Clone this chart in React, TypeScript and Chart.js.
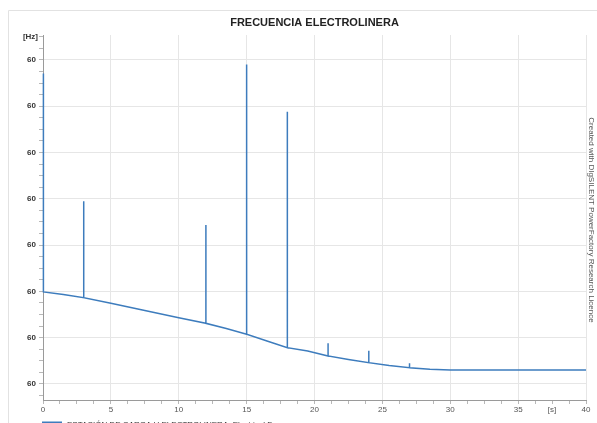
import React, { useEffect, useRef } from "react";
import { Chart, registerables } from "chart.js";

Chart.register(...registerables);

const chartTitle = "FRECUENCIA ELECTROLINERA";
const seriesName = "ESTACIÓN DE CARGA U ELECTROLINERA: Electrical Frequency";
const watermark = "Created with DIgSILENT PowerFactory Research Licence";
const yUnit = "[Hz]";
const xUnit = "[s]";

// time [s] and frequency [Hz]
const timeS = [0, 0.03, 0.03, 1.5, 3, 3, 3, 5, 7.5, 10, 12, 12, 12, 13.5, 15, 15, 15, 16.5, 18, 18, 18, 19.5, 21, 21, 21, 22.5, 24, 24, 24, 25.5, 27, 27, 27, 28.5, 30, 35, 40];
const freqHz = [59.9799, 60.0271, 59.9799, 59.97933, 59.97864, 59.9995, 59.97864, 59.97743, 59.9759, 59.97432, 59.97311, 59.99434, 59.97311, 59.972, 59.97073, 60.02905, 59.97073, 59.9693, 59.96784, 60.0188, 59.96784, 59.96713, 59.96605, 59.9688, 59.96605, 59.9653, 59.9646, 59.9672, 59.9646, 59.964, 59.96352, 59.9645, 59.96352, 59.9632, 59.96302, 59.96302, 59.96302];

const xMajorTicks = [0, 5, 10, 15, 20, 25, 30, 35, 40];
const xMinorStep = 1.25;
const yMajorTicks = [59.96, 59.97, 59.98, 59.99, 60.0, 60.01, 60.02, 60.03];
const yMinorStep = 0.0025;
const yMin = 59.95654;
const yMax = 60.0354;

const LINE = "#3d7cbd";
const FONT = "'Liberation Sans', Arial, sans-serif";

const near = (a: number, list: number[]) => list.some((v) => Math.abs(v - a) < 1e-7);

export default function App() {
  const ref = useRef<HTMLCanvasElement | null>(null);

  useEffect(() => {
    const canvas = ref.current;
    if (!canvas) return;

    const decor = {
      id: "decor",
      afterDraw(chart: any) {
        const ctx = chart.ctx as CanvasRenderingContext2D;
        const area = chart.chartArea;
        ctx.save();
        // frame
        ctx.strokeStyle = "#e2e2e2";
        ctx.lineWidth = 1;
        ctx.beginPath();
        ctx.moveTo(8.5, 423);
        ctx.lineTo(8.5, 10.5);
        ctx.lineTo(597, 10.5);
        ctx.stroke();
        // title
        ctx.fillStyle = "#222";
        ctx.font = `bold 11px ${FONT}`;
        ctx.textAlign = "center";
        ctx.textBaseline = "middle";
        ctx.fillText(chartTitle, (area.left + area.right) / 2, 23);
        // y unit
        ctx.font = `bold 8px ${FONT}`;
        ctx.textAlign = "right";
        ctx.fillStyle = "#333";
        ctx.fillText(yUnit, 38, 37);
        // watermark
        ctx.save();
        ctx.translate(591, 220);
        ctx.rotate(Math.PI / 2);
        ctx.font = `8px ${FONT}`;
        ctx.fillStyle = "#555";
        ctx.textAlign = "center";
        ctx.textBaseline = "middle";
        ctx.fillText(watermark, 0, 0);
        ctx.restore();
        // legend
        ctx.strokeStyle = LINE;
        ctx.lineWidth = 2;
        ctx.beginPath();
        ctx.moveTo(42, 422.5);
        ctx.lineTo(62, 422.5);
        ctx.stroke();
        ctx.font = `8px ${FONT}`;
        ctx.fillStyle = "#333";
        ctx.textAlign = "left";
        ctx.textBaseline = "middle";
        ctx.fillText(seriesName, 67, 425);
        ctx.restore();
      },
    };

    const chart = new Chart(canvas, {
      type: "line",
      data: {
        datasets: [
          {
            label: seriesName,
            data: timeS.map((t, i) => ({ x: t, y: freqHz[i] })),
            borderColor: LINE,
            borderWidth: 1.5,
            pointRadius: 0,
            tension: 0,
            fill: false,
            clip: 2,
          },
        ],
      },
      options: {
        animation: false,
        responsive: false,
        layout: { padding: { left: 0, right: 11, top: 35, bottom: 8 } },
        plugins: {
          legend: { display: false },
          title: { display: false },
          tooltip: { enabled: false },
        },
        scales: {
          x: {
            type: "linear",
            min: 0,
            max: 40,
            afterBuildTicks: (scale: any) => {
              const t = [];
              for (let v = 0; v <= 40 + 1e-9; v += xMinorStep) t.push({ value: v });
              scale.ticks = t;
            },
            afterFit: (scale: any) => {
              scale.height = 15;
            },
            border: { color: "#9a9a9a", width: 1 },
            grid: {
              color: (c: any) => (c.tick && near(c.tick.value, xMajorTicks) ? "#e6e6e6" : "rgba(0,0,0,0)"),
              tickColor: "#b8b8b8",
              tickLength: 4,
            },
            ticks: {
              autoSkip: false,
              maxRotation: 0,
              padding: 1,
              color: "#555",
              font: { family: FONT, size: 8 },
              callback: (v: any) => {
                const n = Number(v);
                if (near(n, xMajorTicks)) return String(Math.round(n));
                if (Math.abs(n - 37.5) < 1e-7) return xUnit;
                return "";
              },
            },
          },
          y: {
            type: "linear",
            min: yMin,
            max: yMax,
            afterBuildTicks: (scale: any) => {
              const t = [];
              for (let v = 59.96 - 0.005; v <= yMax; v += yMinorStep) {
                if (v >= yMin) t.push({ value: v });
              }
              scale.ticks = t;
            },
            afterFit: (scale: any) => {
              scale.width = 43;
            },
            border: { color: "#9a9a9a", width: 1 },
            grid: {
              color: (c: any) => (c.tick && near(c.tick.value, yMajorTicks) ? "#e6e6e6" : "rgba(0,0,0,0)"),
              tickColor: "#b8b8b8",
              tickLength: 4,
            },
            ticks: {
              autoSkip: false,
              padding: 3,
              color: "#333",
              font: { family: FONT, size: 8, weight: "bold" },
              callback: (v: any) => {
                const n = Number(v);
                return near(n, yMajorTicks) ? n.toFixed(0) : "";
              },
            },
          },
        },
      },
      plugins: [decor],
    } as any);

    return () => chart.destroy();
  }, []);

  return (
    <div style={{ position: "absolute", left: 0, top: 0, width: 597, height: 423, background: "#fff" }}>
      <canvas ref={ref} width={597} height={423} />
    </div>
  );
}
